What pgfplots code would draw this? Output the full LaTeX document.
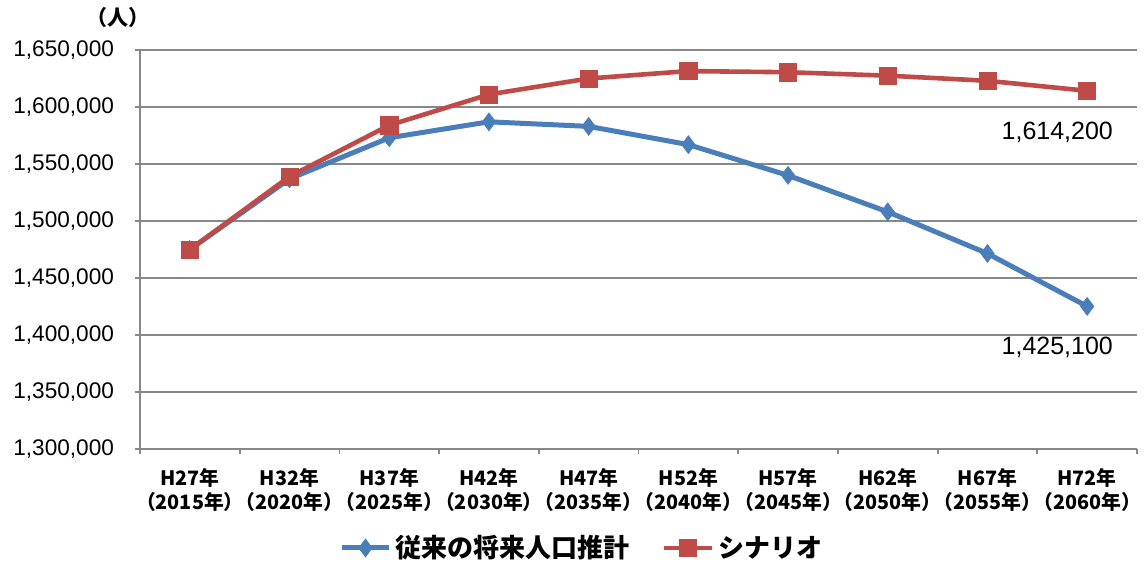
\documentclass[border=0pt]{standalone}
\usepackage{fontspec}
\setmainfont{Liberation Sans}
\newfontfamily\jp{Noto Sans CJK JP}
\usepackage{pgfplots}
\pgfplotsset{compat=1.18}
\definecolor{sblue}{HTML}{4A7EBB}
\definecolor{sred}{HTML}{BE4B48}
\definecolor{gridc}{HTML}{888888}
\begin{document}
\begin{tikzpicture}
\begin{axis}[
  scale only axis, width=498.5pt, height=199.5pt,
  xmin=-0.5, xmax=9.5, ymin=1300000, ymax=1650000,
  axis x line*=bottom, axis y line*=left,
  axis line style={draw=gridc, line width=0.9pt},
  scaled y ticks=false,
  ytick={1300000,1350000,1400000,1450000,1500000,1550000,1600000,1650000},
  yticklabels={{1,300,000},{1,350,000},{1,400,000},{1,450,000},{1,500,000},{1,550,000},{1,600,000},{1,650,000}},
  yticklabel style={font=\fontsize{11.3}{13}\selectfont, xshift=-7pt},
  xtick={-0.5,0.5,1.5,2.5,3.5,4.5,5.5,6.5,7.5,8.5,9.5},
  xticklabels={},
  extra x ticks={0,1,2,3,4,5,6,7,8,9},
  extra x tick labels={{H27年\\（2015年）},{H32年\\（2020年）},{H37年\\（2025年）},{H42年\\（2030年）},{H47年\\（2035年）},{H52年\\（2040年）},{H57年\\（2045年）},{H62年\\（2050年）},{H67年\\（2055年）},{H72年\\（2060年）}},
  extra x tick style={major tick length=0pt},
  xticklabel style={font=\jp\bfseries\fontsize{9.9}{12}\selectfont, align=center, inner xsep=0pt, yshift=-6pt},
  tick align=outside, major tick length=2.5pt,
  tick style={draw=gridc, line width=0.9pt},
  ymajorgrids, major grid style={draw=gridc, line width=0.9pt},
  legend style={draw=none, legend columns=2, at={(0.444,-0.248)}, anchor=center,
    font=\jp\bfseries\fontsize{13}{15}\selectfont,
    /tikz/every even column/.append style={column sep=14pt}},
  legend image code/.code={\draw[mark repeat=2,mark phase=2] plot coordinates {(0cm,0cm)(0.42cm,0cm)(0.84cm,0cm)};},
  clip=false,
]
\addplot[sblue, line width=2.5pt, mark=diamond*, mark size=4.5pt, mark options={solid, fill=sblue, draw=sblue, line width=0.3pt}] coordinates {
(0,1475000) (1,1537000) (2,1573000) (3,1587000) (4,1583000) (5,1567000) (6,1540000) (7,1508000) (8,1471500) (9,1425100)};
\addlegendentry{従来の将来人口推計}
\addplot[sred, line width=2.3pt, mark=square*, mark size=4.3pt, mark options={solid, fill=sred, draw=sred, line width=0.3pt}] coordinates {
(0,1475000) (1,1539000) (2,1584000) (3,1611000) (4,1625000) (5,1631500) (6,1630500) (7,1627500) (8,1623000) (9,1614200)};
\addlegendentry{シナリオ}
\node[font=\fontsize{12.5}{14}\selectfont] at (axis cs:8.7,1578000) {1,614,200};
\node[font=\fontsize{12.5}{14}\selectfont] at (axis cs:8.7,1389500) {1,425,100};
\node[font=\jp\bfseries\fontsize{10.5}{12}\selectfont] at ([xshift=-11pt,yshift=16pt]rel axis cs:0,1) {（人）};
\end{axis}
\pgfresetboundingbox
\path ([xshift=-70pt,yshift=-56pt]current axis.south west) rectangle ++(572pt,280.5pt);
\end{tikzpicture}
\end{document}
